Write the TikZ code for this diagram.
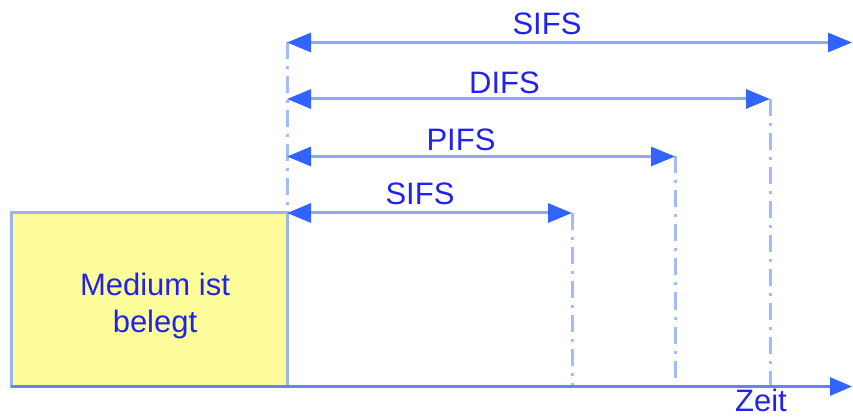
\documentclass[tikz,border=0pt]{standalone}
\usepackage{fontspec}
\setmainfont{Liberation Sans}
\usetikzlibrary{arrows.meta}
\definecolor{lineblue}{HTML}{8CA8FF}
\definecolor{tipblue}{HTML}{3363FF}
\definecolor{dashblue}{HTML}{A3BAFF}
\definecolor{textblue}{HTML}{2222EE}
\definecolor{boxfill}{HTML}{FDFC9B}
\definecolor{boxedge}{HTML}{9CB4E8}
\definecolor{axisblue}{HTML}{5F86F5}
\tikzset{
  lbl/.style={text=textblue, font=\fontsize{31}{37}\selectfont, anchor=base, inner sep=0pt},
  span/.style={draw=lineblue, line width=3pt, {Triangle[length=24pt, width=19pt, color=tipblue]}-{Triangle[length=24pt, width=19pt, color=tipblue]}},
  mark line/.style={draw=dashblue, line width=3pt, dash pattern=on 17pt off 7pt on 3pt off 7pt},
  busybox/.style={draw=boxedge, fill=boxfill, line width=3pt, minimum width=276pt, minimum height=173pt, inner sep=0pt, outer sep=0pt, anchor=north west}
}
\begin{document}
\begin{tikzpicture}[x=1pt, y=-1pt]
\useasboundingbox (0,0) rectangle (853,419);

% medium busy block
\node[busybox] (busy) at (11,213) {};
\node[lbl] (busytxt) at (155,295) {Medium ist};
\node[lbl] (busytxt2) at (155,332) {belegt};

% end of busy period and interframe space end points
\coordinate (t0top) at (287,42.5);
\coordinate (t0)    at (287,213);
\coordinate (sifsA) at (287,42.5);
\coordinate (sifsB) at (852,42.5);
\coordinate (difsA) at (287,99);
\coordinate (difsB) at (770,99);
\coordinate (pifsA) at (287,156.5);
\coordinate (pifsB) at (675,156.5);
\coordinate (sifs2A) at (287,213);
\coordinate (sifs2B) at (572,213);
\coordinate (difsT) at (770,386.5);
\coordinate (pifsT) at (675,386.5);
\coordinate (sifs2T) at (572,386.5);
\coordinate (axisA) at (11,386.5);
\coordinate (axisB) at (852,386.5);

% dash-dotted markers
\draw[mark line] (t0top) -- (t0);
\draw[mark line] (difsB) -- (difsT);
\draw[mark line] (pifsB) -- (pifsT);
\draw[mark line] (sifs2B) -- (sifs2T);

% time axis
\draw[draw=axisblue, line width=3pt, -{Triangle[length=22pt, width=18pt, color=tipblue]}] (axisA) -- (axisB);

% interframe spaces
\draw[span] (sifsA) -- (sifsB);
\draw[span] (difsA) -- (difsB);
\draw[span] (pifsA) -- (pifsB);
\draw[span] (sifs2A) -- (sifs2B);

% labels
\node[lbl] (lsifs)  at (547,35)  {SIFS};
\node[lbl] (ldifs)  at (504.5,94) {DIFS};
\node[lbl] (lpifs)  at (461,151) {PIFS};
\node[lbl] (lsifs2) at (420,205) {SIFS};
\node[lbl] (lzeit)  at (761,411) {Zeit};
\end{tikzpicture}
\end{document}
